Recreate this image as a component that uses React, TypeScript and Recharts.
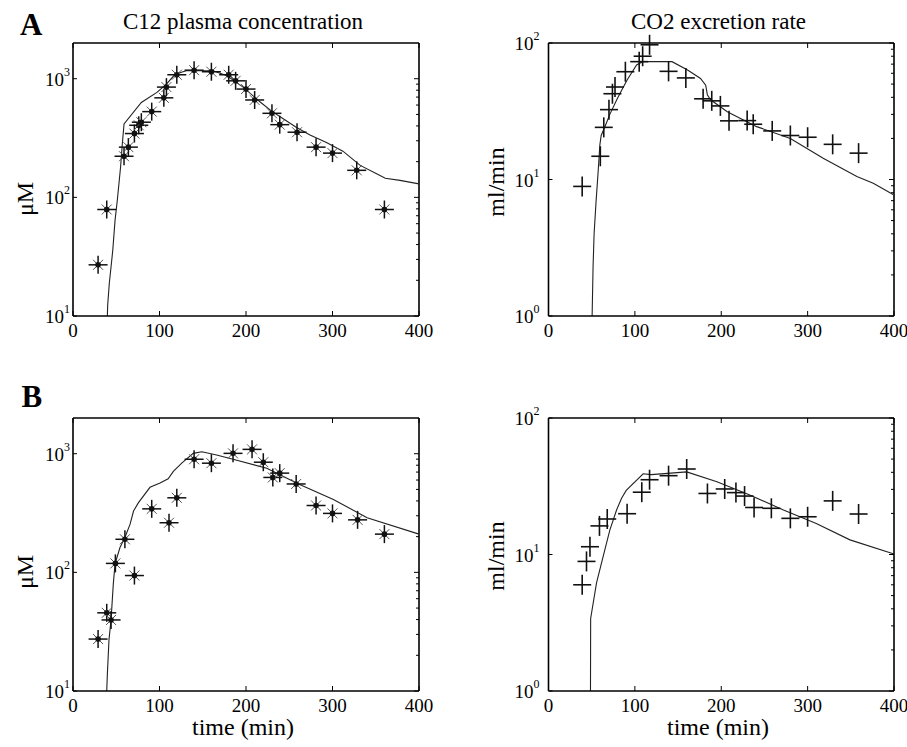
import React from 'react';
import { ComposedChart, Line, Scatter, XAxis, YAxis, ReferenceLine } from 'recharts';

const FONT = 'Liberation Serif, Times New Roman, serif';

// ---------- tick values ----------
const timeTicks = [0, 100, 200, 300, 400];
const concMajor = [10, 100, 1000];
const concMinor = [20, 30, 40, 50, 60, 70, 80, 90, 200, 300, 400, 500, 600, 700, 800, 900];
const rateMajor = [1, 10, 100];
const rateMinor = [2, 3, 4, 5, 6, 7, 8, 9, 20, 30, 40, 50, 60, 70, 80, 90];

// ---------- Panel A: C12 plasma concentration ----------
const aConcObsT = [29, 39, 59, 64, 71, 76, 79, 91, 105, 108, 120, 140, 160, 180, 188, 200, 210, 230, 239, 259, 281, 300, 328, 360];
const aConcObsV = [27, 79, 222, 265, 345, 405, 430, 528, 690, 850, 1080, 1180, 1145, 1080, 960, 818, 662, 511, 410, 354, 265, 236, 169, 79];
const aConcModT = [39.7, 40.1, 42, 44, 46, 48.6, 51.2, 55, 57, 59, 79, 97, 108, 118, 131, 162, 178, 197, 216, 230, 243, 258, 274, 293, 312, 332, 351, 361, 378, 400];
const aConcModV = [10, 12.4, 19, 26, 36, 64, 94, 180, 282, 416, 631, 767, 900, 1090, 1167, 1167, 1060, 845, 640, 530, 460, 390, 335, 290, 245, 186, 158, 145, 139, 130];

// ---------- Panel A: CO2 excretion rate ----------
const aRateObsT = [39, 60, 64, 70, 74, 77, 89, 105, 109, 117, 139, 159, 179, 189, 199, 209, 230, 237, 259, 280, 300, 329, 359];
const aRateObsV = [8.9, 14.8, 24.1, 32.5, 42.5, 47.6, 61.6, 73, 80, 97, 62, 55.5, 39, 37.7, 34.6, 26.9, 27, 25.4, 22.7, 21, 20.4, 18.1, 15.6];
const aRateModT = [50.5, 51.6, 52.8, 55, 57.5, 59.5, 61, 66, 71, 80, 91, 102, 109, 143, 161, 176, 182, 184, 188, 207, 241, 280, 318, 357, 376, 400];
const aRateModV = [1, 2.3, 4, 6.8, 11.5, 18, 21, 25, 30, 39.5, 53.6, 69, 73, 73, 63.4, 55, 49, 41.6, 38.2, 31.4, 24.4, 20, 14.3, 10.5, 9.4, 7.7];

// ---------- Panel B: C12 plasma concentration ----------
const bConcObsT = [29, 39, 44, 49, 60, 71, 91, 111, 120, 140, 160, 185, 207, 220, 231, 239, 258, 281, 300, 329, 360];
const bConcObsV = [27.4, 45.6, 39.7, 119, 190, 94, 343, 262, 425, 898, 832, 1007, 1088, 848, 631, 686, 556, 366, 314, 277, 210];
const bConcModT = [39, 39.7, 41.6, 44, 46.6, 48.6, 54.3, 60, 66, 70, 75.5, 89, 100.6, 110, 116, 125.7, 139, 149, 166, 185, 224, 262, 301, 340, 400];
const bConcModV = [10, 13.8, 27, 40, 80, 118, 162, 197, 255, 329, 385, 521, 566, 615, 709, 832, 1007, 1040, 977, 898, 755, 550, 411, 289, 210];

// ---------- Panel B: CO2 excretion rate ----------
const bRateObsT = [39, 44, 48, 59, 68, 91, 108, 117, 139, 160, 184, 204, 217, 227, 238, 258, 280, 300, 329, 359];
const bRateObsV = [6.0, 8.9, 11.4, 16.2, 18.2, 19.9, 28.6, 35.3, 37.8, 42.3, 28, 30.2, 28.4, 26.8, 22.1, 21.8, 18.4, 18.9, 24.7, 19.8];
const bRateModT = [48.6, 48.8, 55.6, 63.3, 71, 78.8, 84.6, 90, 109.6, 119, 160, 195, 233, 272, 310, 349, 400];
const bRateModV = [1, 3.4, 6.2, 9.7, 15.1, 21.2, 25.8, 29.5, 39, 38.5, 40.3, 34.1, 27.3, 21.2, 16.9, 12.8, 10.1];

const zip = (t: number[], v: number[]) => t.map((x, i) => ({ t: x, v: v[i] }));

// ---------- geometry ----------
const CH_H = 372;
const PLOT_H = 273;

const Asterisk = (p: any) => {
  const { cx, cy } = p;
  if (cx == null || cy == null) return null;
  return (
    <g>
      <line x1={cx - 9.5} x2={cx + 9.5} y1={cy} y2={cy} stroke="#111" strokeWidth={1.5} />
      <line x1={cx} x2={cx} y1={cy - 9} y2={cy + 9} stroke="#111" strokeWidth={1.5} />
      <line x1={cx - 5} x2={cx + 5} y1={cy - 5} y2={cy + 5} stroke="#555" strokeWidth={1} />
      <line x1={cx - 5} x2={cx + 5} y1={cy + 5} y2={cy - 5} stroke="#555" strokeWidth={1} />
      <circle cx={cx} cy={cy} r={2.8} fill="#111" />
    </g>
  );
};

const Plus = (p: any) => {
  const { cx, cy } = p;
  if (cx == null || cy == null) return null;
  return (
    <g>
      <line x1={cx - 9} x2={cx + 9} y1={cy} y2={cy} stroke="#111" strokeWidth={1.6} />
      <line x1={cx} x2={cx} y1={cy - 10} y2={cy + 10} stroke="#111" strokeWidth={1.6} />
    </g>
  );
};

const YTick = (props: any) => {
  const { x, y, payload, plotW, gap, majors } = props;
  const v = payload.value;
  const isMajor = majors.includes(v);
  const exp = Math.round(Math.log10(v));
  return (
    <g>
      {isMajor && <line x1={x} x2={x + 4} y1={y} y2={y} stroke="#000" strokeWidth={1} />}
      <line x1={x + plotW} x2={x + plotW - (isMajor ? 5 : 3)} y1={y} y2={y} stroke="#000" strokeWidth={1} />
      {isMajor && (
        <text x={x - gap} y={y + 7} textAnchor="end" style={{ fontFamily: FONT }} fontSize={19} fill="#000">
          <tspan>10</tspan>
          <tspan dy={-10} fontSize={12}>{exp}</tspan>
        </text>
      )}
    </g>
  );
};

const XTick = (props: any) => {
  const { x, y, payload } = props;
  return (
    <g>
      <line x1={x} x2={x} y1={y} y2={y - 5} stroke="#000" strokeWidth={1} />
      <line x1={x} x2={x} y1={y - PLOT_H} y2={y - PLOT_H + 5} stroke="#000" strokeWidth={1} />
      <text x={x} y={y + 21} textAnchor="middle" style={{ fontFamily: FONT }} fontSize={19} fill="#000">
        {payload.value}
      </text>
    </g>
  );
};

const AxisTitle = (props: any) => {
  const { px, py, txt, vert } = props;
  return (
    <text
      x={px}
      y={py}
      textAnchor="middle"
      style={{ fontFamily: FONT }}
      fontSize={24}
      fill="#000"
      transform={vert ? `rotate(-90 ${px} ${py})` : undefined}
    >
      {txt}
    </text>
  );
};

type PanelProps = {
  left: number;
  top: number;
  width: number;
  yWidth: number;
  rightMargin: number;
  yDomain: [number, number];
  majors: number[];
  minors: number[];
  gap: number;
  obs: { t: number; v: number }[];
  model: { t: number; v: number }[];
  marker: 'star' | 'plus';
  yLabel: string;
  yLabelX: number;
  yLabelY: number;
  xLabel?: string;
  xLabelX?: number;
};

const Panel = (p: PanelProps) => {
  const plotW = p.width - p.yWidth - p.rightMargin;
  const yTicks = [...p.majors, ...p.minors].sort((a, b) => a - b);
  return (
    <div style={{ position: 'absolute', left: p.left, top: p.top, width: p.width, height: CH_H }}>
      <ComposedChart
        width={p.width}
        height={CH_H}
        margin={{ top: 43, right: p.rightMargin, left: 0, bottom: 0 }}
      >
        <XAxis
          dataKey="t"
          type="number"
          domain={[0, 400]}
          ticks={timeTicks}
          interval={0}
          height={CH_H - 43 - PLOT_H}
          tickSize={0}
          tickMargin={0}
          tickLine={false}
          axisLine={{ stroke: '#000', strokeWidth: 1.6 }}
          tick={(tp: any) => <XTick {...tp} />}
          label={p.xLabel ? <AxisTitle px={p.xLabelX} py={360} txt={p.xLabel} /> : undefined}
        />
        <YAxis
          dataKey="v"
          type="number"
          scale="log"
          domain={p.yDomain}
          ticks={yTicks}
          interval={0}
          width={p.yWidth}
          tickSize={0}
          tickMargin={0}
          tickLine={false}
          axisLine={{ stroke: '#000', strokeWidth: 1.6 }}
          tick={(tp: any) => <YTick {...tp} plotW={plotW} gap={p.gap} majors={p.majors} />}
          label={<AxisTitle px={p.yLabelX} py={p.yLabelY} txt={p.yLabel} vert />}
        />
        <ReferenceLine x={400} stroke="#000" strokeWidth={1.6} />
        <ReferenceLine y={p.yDomain[1]} stroke="#000" strokeWidth={1.6} />
        <Line
          data={p.model}
          dataKey="v"
          type="linear"
          stroke="#222"
          strokeWidth={1.1}
          dot={false}
          activeDot={false}
          isAnimationActive={false}
        />
        <Scatter
          data={p.obs}
          dataKey="v"
          isAnimationActive={false}
          shape={(sp: any) => (p.marker === 'star' ? <Asterisk {...sp} /> : <Plus {...sp} />)}
        />
      </ComposedChart>
    </div>
  );
};

export default function App() {
  const leftCommon = {
    width: 440,
    yWidth: 73,
    rightMargin: 21,
    yDomain: [10, 2000] as [number, number],
    majors: concMajor,
    minors: concMinor,
    gap: 3,
    marker: 'star' as const,
    yLabel: 'μM',
    yLabelX: 33,
  };
  const rightCommon = {
    width: 447,
    yWidth: 88.5,
    rightMargin: 13,
    yDomain: [1, 100] as [number, number],
    majors: rateMajor,
    minors: rateMinor,
    gap: 9,
    marker: 'plus' as const,
    yLabel: 'ml/min',
    yLabelX: 44,
  };
  return (
    <div
      style={{
        position: 'absolute',
        left: 0,
        top: 0,
        width: 907,
        height: 747,
        background: '#fff',
        overflow: 'hidden',
        fontFamily: FONT,
      }}
    >
      <Panel {...leftCommon} left={0} top={0} obs={zip(aConcObsT, aConcObsV)} model={zip(aConcModT, aConcModV)} yLabelY={199} />
      <Panel {...rightCommon} left={460} top={0} obs={zip(aRateObsT, aRateObsV)} model={zip(aRateModT, aRateModV)} yLabelY={182} />
      <Panel
        {...leftCommon}
        left={0}
        top={375}
        obs={zip(bConcObsT, bConcObsV)}
        model={zip(bConcModT, bConcModV)}
        yLabelY={197}
        xLabel="time (min)"
        xLabelX={243}
      />
      <Panel
        {...rightCommon}
        left={460}
        top={375}
        obs={zip(bRateObsT, bRateObsV)}
        model={zip(bRateModT, bRateModV)}
        yLabelY={181}
        xLabel="time (min)"
        xLabelX={258}
      />
      <svg
        width={907}
        height={747}
        style={{ position: 'absolute', left: 0, top: 0, pointerEvents: 'none' }}
      >
        <text x={20} y={35} style={{ fontFamily: FONT }} fontSize={31} fontWeight="bold" fill="#000">A</text>
        <text x={21.5} y={407} style={{ fontFamily: FONT }} fontSize={31} fontWeight="bold" fill="#000">B</text>
        <text x={243} y={28.5} textAnchor="middle" style={{ fontFamily: FONT }} fontSize={23} fill="#000">
          C12 plasma concentration
        </text>
        <text x={718.5} y={28.5} textAnchor="middle" style={{ fontFamily: FONT }} fontSize={23} fill="#000">
          CO2 excretion rate
        </text>
      </svg>
    </div>
  );
}
